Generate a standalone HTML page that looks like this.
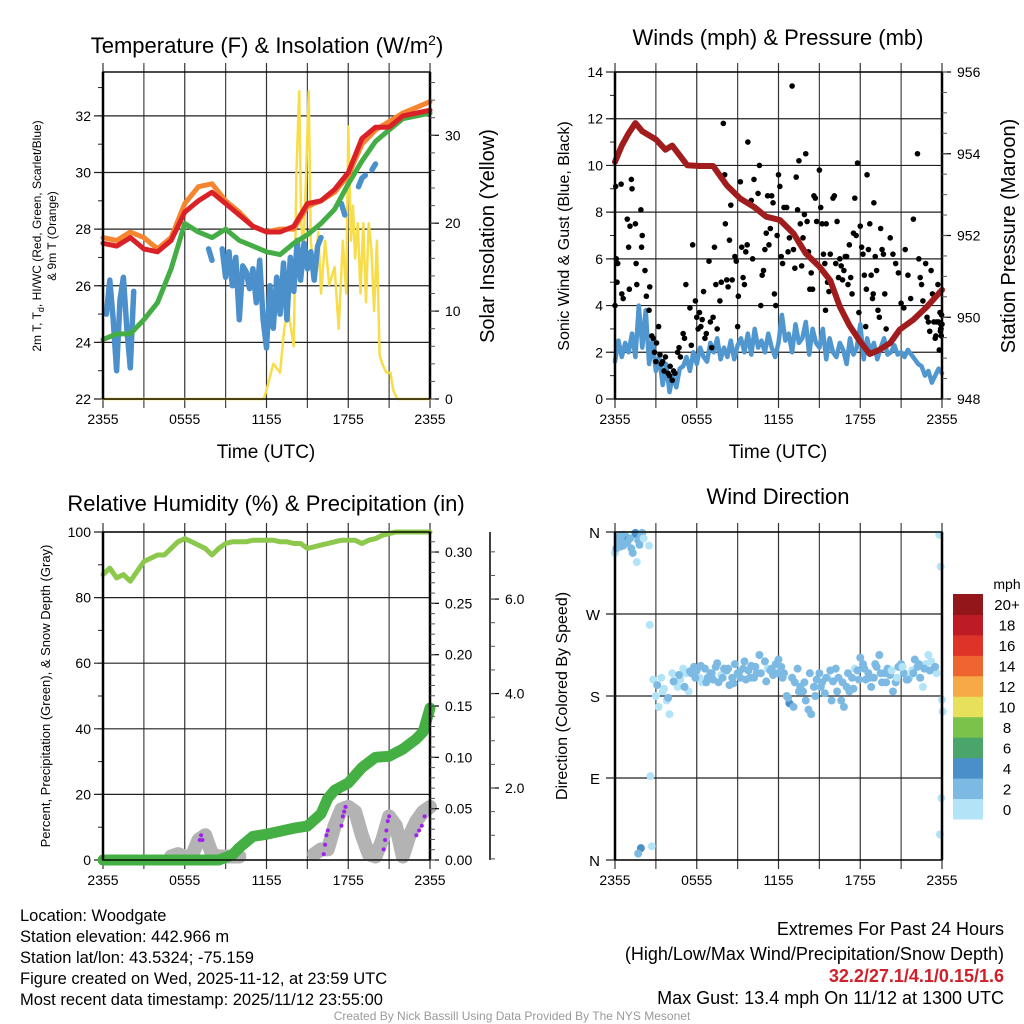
<!DOCTYPE html>
<html><head><meta charset="utf-8"><title>Mesonet Meteogram</title>
<style>
html,body{margin:0;padding:0;background:#fff;}
svg{display:block;font-family:"Liberation Sans",Arial,sans-serif;}
</style></head>
<body>
<svg id="chart" width="1024" height="1024" viewBox="0 0 1024 1024" xmlns="http://www.w3.org/2000/svg">
<rect x="0" y="0" width="1024" height="1024" fill="#fff"/>
<text x="267" y="53" font-size="22" text-anchor="middle">Temperature (F) &amp; Insolation (W/m<tspan dy="-8" font-size="14">2</tspan><tspan dy="8">)</tspan></text>
<text x="778" y="45" font-size="22" text-anchor="middle">Winds (mph) &amp; Pressure (mb)</text>
<text x="266" y="511" font-size="22" text-anchor="middle">Relative Humidity (%) &amp; Precipitation (in)</text>
<text x="778" y="504" font-size="22" text-anchor="middle">Wind Direction</text>
<text x="266" y="458" font-size="19" text-anchor="middle">Time (UTC)</text>
<text x="778" y="458" font-size="19" text-anchor="middle">Time (UTC)</text>
<text transform="translate(41,236) rotate(-90)" font-size="12" text-anchor="middle">2m T, T<tspan dy="3" font-size="9">d</tspan><tspan dy="-3">, HI/WC (Red, Green, Scarlet/Blue)</tspan></text>
<text transform="translate(56,236) rotate(-90)" font-size="12" text-anchor="middle">&amp; 9m T (Orange)</text>
<text transform="translate(494,236) rotate(-90)" font-size="20" text-anchor="middle">Solar Insolation (Yellow)</text>
<text transform="translate(569,236) rotate(-90)" font-size="16" text-anchor="middle">Sonic Wind &amp; Gust (Blue, Black)</text>
<text transform="translate(1015,236) rotate(-90)" font-size="20" text-anchor="middle">Station Pressure (Maroon)</text>
<text transform="translate(50,696) rotate(-90)" font-size="13" text-anchor="middle">Percent, Precipitation (Green), &amp; Snow Depth (Gray)</text>
<text transform="translate(567,696) rotate(-90)" font-size="16" text-anchor="middle">Direction (Colored By Speed)</text>
<g font-size="16.5">
<text x="20" y="921">Location: Woodgate</text>
<text x="20" y="942">Station elevation: 442.966 m</text>
<text x="20" y="963">Station lat/lon: 43.5324; -75.159</text>
<text x="20" y="984">Figure created on Wed, 2025-11-12, at 23:59 UTC</text>
<text x="20" y="1005">Most recent data timestamp: 2025/11/12 23:55:00</text>
</g>
<g font-size="18" text-anchor="end">
<text x="1004" y="935">Extremes For Past 24 Hours</text>
<text x="1004" y="960">(High/Low/Max Wind/Precipitation/Snow Depth)</text>
<text x="1004" y="982" fill="#d0202a" font-weight="bold">32.2/27.1/4.1/0.15/1.6</text>
<text x="1004" y="1004">Max Gust: 13.4 mph On 11/12 at 1300 UTC</text>
</g>
<text x="512" y="1020" font-size="12" fill="#999" text-anchor="middle">Created By Nick Bassill Using Data Provided By The NYS Mesonet</text>
</svg>
<script>
// ===== data (hours after 2355 UTC) =====
const timeTicks = ["2355","0555","1155","1755","2355"];
const tempRed = [27.5,27.4,27.7,27.3,27.2,27.6,28.6,29.0,29.3,28.9,28.5,28.1,27.9,27.9,28.1,28.9,29.0,29.4,30.0,31.2,31.6,31.6,32.0,32.1,32.2];
const temp9mOrange = [27.7,27.6,27.9,27.7,27.3,27.7,28.9,29.5,29.6,29.0,28.6,28.1,27.9,28.0,28.0,28.8,29.0,29.3,29.9,31.0,31.5,31.8,32.1,32.3,32.5];
const dewGreen = [24.1,24.3,24.3,24.8,25.4,26.6,28.2,27.9,27.7,28.0,27.6,27.4,27.2,27.1,27.5,27.8,28.2,28.7,29.6,30.4,31.1,31.5,31.9,32.0,32.1];
const windChillBlue = [null,25.0,26.2,24.8,23.0,25.5,26.3,24.5,23.1,25.8,null,null,null,null,null,null,null,null,null,null,null,null,null,null,null,null,27.9,null,null,null,null,27.3,26.9,null,null,27.3,26.3,27.2,26.0,27.0,24.8,26.7,26.5,25.9,26.6,25.4,26.9,24.8,23.8,26.0,24.5,26.3,25.0,26.8,24.8,27.0,25.8,27.6,26.2,27.5,26.6,27.2,26.2,27.4,27.7,null,28.1,null,28.1,null,28.9,28.5,null,28.7,null,29.5,29.8,29.9,null,30.1,30.3,null,30.5,null,null,null,null,null,null,null,null,null,null,null,null,null,null];
const insolHours = [0,11.8,12,12.5,13,13.3,13.6,14,14.2,14.4,14.55,14.7,14.9,15.1,15.25,15.5,15.8,16,16.3,16.6,17,17.3,17.6,17.85,18,18.2,18.35,18.5,18.7,18.9,19.1,19.3,19.5,19.7,19.9,20.1,20.3,20.5,20.8,21.1,21.3,21.6,24];
const insolValues = [0,0,1,4,3,8,10,6,26,35,20,17,25,35,18,14,19,12,18,13,15,8,18,12,31,18,22,16,20,12,20,11,20,17,10,18,5,4,3,3,1,0,0];
const windBlue = [1.6,2.5,1.8,2.4,2.0,2.8,1.8,4.0,2.2,3.8,1.5,2.5,1.2,1.8,0.6,1.5,0.3,1.0,0.5,1.3,1.4,1.8,1.2,2.0,1.5,2.2,1.8,1.6,2.4,2.0,2.6,1.7,2.2,1.8,2.5,1.7,2.3,2.6,2.0,2.8,1.9,3.0,2.2,2.5,2.0,2.8,2.2,1.8,2.4,3.6,2.5,2.8,2.0,3.2,2.4,2.6,3.3,1.9,3.0,2.4,2.2,3.0,1.7,2.6,2.0,1.8,2.4,2.1,1.5,2.6,1.9,2.2,3.2,1.7,2.6,2.0,2.4,1.7,2.2,2.6,1.9,2.0,2.3,1.9,2.0,1.8,2.1,1.9,1.7,1.5,1.4,1.0,1.2,0.7,1.0,1.3,1.1];
const gustHours = [0,0.05,0.1,0.15,0.2,0.45,0.5,0.6,0.9,1.0,1.05,1.1,1.2,1.25,1.5,1.55,1.6,1.9,1.95,2.0,2.2,2.3,2.5,2.55,2.7,2.8,2.9,3.0,3.05,3.2,3.3,3.4,3.5,3.6,3.7,3.9,4.0,4.05,4.2,4.3,4.4,4.6,4.7,4.8,5.0,5.1,5.2,5.5,5.6,5.7,5.9,6.0,6.1,6.2,6.3,6.4,6.5,6.6,6.7,6.9,7.0,7.1,7.2,7.3,7.4,7.5,7.7,7.8,7.95,8.05,8.1,8.2,8.3,8.4,8.5,8.6,8.8,8.9,9.0,9.05,9.2,9.3,9.4,9.5,9.6,9.7,9.75,10.0,10.1,10.2,10.5,10.6,10.7,10.8,10.9,11.0,11.1,11.2,11.3,11.4,11.5,11.6,11.7,11.8,11.9,12.0,12.1,12.2,12.3,12.4,13.0,12.6,12.7,12.8,13.1,13.2,13.3,13.4,13.5,13.6,13.7,13.8,13.9,14.0,14.1,14.2,14.3,14.4,14.5,14.6,14.7,14.8,15.0,15.1,15.2,15.3,15.4,15.45,15.5,15.6,15.7,15.8,16.0,16.1,16.2,16.3,16.4,16.5,16.6,16.7,16.8,16.9,17.0,17.1,17.2,17.3,17.4,17.5,17.6,17.7,17.8,17.9,18.0,18.1,18.2,18.3,18.4,18.45,18.5,18.6,18.7,18.8,18.9,18.95,19.0,19.1,19.2,19.3,19.4,19.5,19.6,19.7,19.8,19.9,20.2,20.4,20.6,20.8,21.0,21.2,21.3,21.5,21.7,21.9,22.2,22.3,22.4,22.5,22.6,22.8,22.9,23.0,23.1,23.2,23.3,23.4,23.5,23.55,23.6,23.7,23.75,23.8,23.85,23.9,23.92,23.95,23.97,24.0,23.88,23.93];
const gustValues = [4.0,9.1,6.0,5.0,5.8,9.2,4.5,4.3,7.7,6.5,4.7,7.4,9.4,9.0,7.5,5.8,4.9,8.1,6.5,7.0,5.5,4.4,3.8,4.8,2.7,2.6,2.0,1.6,2.4,3.1,1.9,1.5,1.6,1.2,1.8,1.1,1.0,1.4,0.8,1.2,1.1,2.0,2.2,1.8,2.8,2.6,4.9,3.9,2.3,6.6,4.2,3.5,3.0,3.7,3.1,3.4,4.6,2.6,2.8,5.9,3.3,2.2,3.5,6.5,4.9,3.0,4.2,5.0,11.8,9.6,7.5,5.1,4.8,6.8,8.3,5.1,6.1,5.9,3.1,4.4,9.3,6.5,5.2,4.9,6.3,6.6,11.0,8.5,6.0,9.4,8.8,10.0,4.0,5.3,5.5,6.4,7.1,8.7,6.6,7.3,8.7,8.4,4.5,4.0,7.0,9.6,9.1,6.1,5.8,8.2,13.4,8.2,6.3,6.9,6.4,5.6,9.5,8.1,10.2,7.5,5.7,6.9,7.9,10.5,7.6,6.3,4.7,5.4,4.7,8.7,8.6,7.6,9.8,8.2,7.5,6.2,5.8,3.8,7.5,5.0,4.6,6.2,8.6,8.7,5.8,7.6,5.2,6.0,5.7,5.1,5.5,6.1,6.1,4.9,6.6,5.2,4.5,7.1,8.6,7.0,10.1,3.7,7.4,6.5,6.2,5.3,3.1,4.7,9.6,6.4,7.5,5.3,4.3,4.5,8.4,6.1,5.5,3.8,3.5,7.3,6.4,6.2,4.5,3.0,6.9,6.2,5.8,5.4,4.1,3.9,6.4,5.3,4.3,7.7,10.5,6.0,5.2,4.9,4.2,5.8,3.5,3.3,2.9,5.5,4.5,3.3,2.6,2.7,3.3,4.9,3.3,2.1,3.7,3.0,3.2,2.7,3.6,3.2,2.9,3.0];
const pressHours = [0,0.5,1,1.5,2,3,3.7,4.2,5.3,6.2,7.2,8.2,9.2,10.2,11.1,12.1,13.1,14,15,15.8,16.5,17.2,18,18.7,19.4,20.2,20.9,21.9,22.9,24];
const pressValues = [953.8,954.2,954.5,954.75,954.55,954.35,954.1,954.2,953.72,953.7,953.7,953.23,952.9,952.7,952.46,952.38,952.05,951.56,951.24,950.9,950.26,949.8,949.4,949.1,949.2,949.37,949.7,949.94,950.26,950.67];
const rhValues = [87,89,86,87,85,88,91,92,93,93,95,97,98,97,96,95,93,95,96.5,97,97,97,97.5,97.5,97.5,97.5,97,97,96.5,96.5,95,95.5,96,96.5,97,97.5,97.5,97.5,96.5,97.5,98,99,99.5,100,100,100,100,100,100];
const precipHours = [0,1,2,3,4,5,6,7,8,8.5,9.5,10,11,12,13,14,15,16,16.5,17,18,19,20,21,22,23,23.5,24];
const precipValues = [0,0,0,0,0,0,0,0,0,0,0.005,0.012,0.023,0.025,0.028,0.031,0.033,0.045,0.06,0.068,0.075,0.09,0.1,0.101,0.108,0.118,0.125,0.148];
const snowDepth = [null,null,null,null,null,null,null,null,null,null,0.55,0.6,0.55,0.55,0.9,1.0,0.6,0.55,0.55,0.55,0.55,null,null,null,null,null,null,null,null,null,null,0.6,0.7,0.7,1.2,1.55,1.6,1.5,1.0,0.6,0.55,0.9,1.4,1.2,0.55,1.0,1.3,1.5,1.6];
const snowRawHours = [7.1,7.2,7.3,16.2,16.3,16.4,16.5,17.5,17.6,17.7,17.8,20.6,20.7,20.8,20.9,21.0,23.0,23.2,23.4,23.6];
const snowRawValues = [0.9,1.0,0.9,0.6,0.8,1.0,1.1,1.2,1.4,1.5,1.6,0.7,0.9,1.1,1.3,1.4,1.0,1.1,1.2,1.4];
const dirHours = [0,0.1,0.2,0.3,0.5,0.6,0.8,1.0,1.1,0.4,0.6,0.9,1.2,1.3,1.5,1.6,1.7,1.8,1.9,2.0,2.1,2.5,1.6,2.55,2.6,1.9,1.7,2.7,23.8,23.9,23.95,23.85,24,24.05,
 2.8,3.0,3.2,3.4,3.6,3.8,4.0,4.2,4.4,4.6,4.8,5.0,5.2,5.4,5.6,5.8,6.0,6.2,6.4,6.6,6.8,7.0,7.2,7.4,7.6,7.8,8.0,8.2,8.4,8.6,8.8,9.0,9.2,9.4,9.6,9.8,10.0,10.2,10.4,10.6,11.0,11.2,11.4,11.6,11.8,12.0,12.2,12.4,12.6,12.8,13.0,13.2,13.4,13.6,13.8,14.0,14.2,14.4,14.6,14.8,15.0,15.2,15.4,15.6,15.8,16.0,16.2,16.4,16.6,16.8,17.0,17.2,17.4,17.6,17.8,18.0,18.2,18.4,18.6,18.8,19.0,19.2,19.4,19.6,19.8,20.0,20.2,20.4,20.6,20.8,21.0,21.2,21.4,21.6,21.8,22.0,22.2,22.4,22.6,22.8,23.0,23.2,23.4,23.6,
 3.1,3.5,3.9,4.3,4.7,5.1,5.5,5.9,6.3,6.7,7.1,7.5,7.9,8.3,8.7,9.1,9.5,9.9,10.3,10.7,11.1,11.5,11.9,12.3,12.7,13.1,13.5,13.9,14.3,14.7,15.1,15.5,15.9,16.3,16.7,17.1,17.5,17.9,18.3,18.7,19.1,19.5,19.9,20.3,20.7,21.1,21.5,21.9,22.3,22.7,23.1,23.5];
const dirValues = [337,342,348,355,350,357,355,352,353,344,345,348,342,337,359,357,351,346,356,359,353,345,327,258,92,13,7,15,357,322,68,28,176,163,
 198,180,168,200,188,175,160,205,195,190,198,210,205,185,205,212,208,200,195,210,200,205,198,212,195,203,210,208,192,200,215,205,200,210,198,208,213,200,205,225,218,210,208,203,215,220,212,205,180,172,200,195,210,190,185,175,165,160,190,198,205,195,183,200,208,196,210,200,175,168,190,185,200,210,208,222,215,198,205,190,200,212,225,195,205,210,203,185,195,212,215,205,198,200,208,220,212,200,190,215,225,218,210,205,
 192,185,178,196,203,190,207,200,213,195,205,216,200,210,194,206,218,200,212,205,196,210,205,200,178,168,185,195,205,180,190,200,175,185,195,205,188,198,210,200,215,205,195,208,200,212,198,205,215,210,208,212];
const dirSpeeds = [0.8,2.5,2.5,2.5,2.5,2.5,2.5,4.5,2.5,2.5,2.5,2.5,2.5,2.5,4.5,4.5,2.5,2.5,2.5,2.5,1.0,1.0,1.0,1.0,1.0,4.5,2.5,1.0,1.0,1.0,1.0,1.0,1.0,1.0,
 1.0,1.0,1.0,1.0,1.0,1.0,1.0,1.0,1.0,1.0,1.0,1.0,1.0,1.0,2.5,2.5,2.5,1.0,1.0,2.5,2.5,2.5,2.5,2.5,2.5,1.0,2.5,2.5,2.5,2.5,2.5,2.5,2.5,2.5,2.5,2.5,2.5,2.5,2.5,2.5,2.5,1.0,2.5,2.5,2.5,2.5,2.5,2.5,2.5,4.5,2.5,2.5,2.5,2.5,2.5,2.5,2.5,2.5,2.5,2.5,2.5,2.5,2.5,1.0,2.5,2.5,2.5,2.5,2.5,2.5,2.5,2.5,2.5,1.0,2.5,2.5,2.5,2.5,2.5,2.5,2.5,2.5,2.5,2.5,2.5,2.5,2.5,2.5,2.5,2.5,2.5,2.5,2.5,1.0,1.0,2.5,2.5,2.5,
 1.0,1.0,1.0,1.0,1.0,1.0,2.5,1.0,2.5,2.5,2.5,2.5,2.5,2.5,2.5,2.5,2.5,2.5,2.5,2.5,2.5,2.5,2.5,2.5,2.5,2.5,2.5,2.5,2.5,2.5,2.5,2.5,2.5,2.5,2.5,2.5,2.5,2.5,2.5,2.5,2.5,2.5,2.5,2.5,2.5,2.5,2.5,2.5,2.5,1.0,1.0,1.0];
const dirLabels = ["N","E","S","W","N"];
const speedColors = ["#b3e3f7","#7cb9e3","#4a8fc7","#4aa56b","#7bc24b","#e6e05a","#f5a947","#ee6530","#dd3328","#bd1c24","#93161b"];
const speedLabels = ["0","2","4","6","8","10","12","14","16","18","20+"];

// ===== drawing =====
const NS = 'http://www.w3.org/2000/svg';
const svg = document.getElementById('chart');
function mk(tag, attrs, parent){
  const e = document.createElementNS(NS, tag);
  for (const k in attrs) e.setAttribute(k, attrs[k]);
  (parent || svg).appendChild(e);
  return e;
}
const P1 = {x0:103, x1:430, y0:72, y1:399};
const P2 = {x0:615, x1:942, y0:72, y1:399};
const P3 = {x0:103, x1:430, y0:532, y1:860};
const P4 = {x0:615, x1:942, y0:532, y1:860};
function xS(p, h){ return p.x0 + h/24*(p.x1-p.x0); }
function yS(p, v, lo, hi){ return p.y1 - (v-lo)/(hi-lo)*(p.y1-p.y0); }

function grid(p, name, hMajors, lo, hi, leftLabels, minorStep){
  const g = mk('g', {});
  
  
  for (let i=0;i<=8;i++){
    const x = xS(p, i*3);
    const l = mk('line', {x1:x, x2:x, y1:p.y0-9, y2:p.y1+9, stroke: (i%2? '#444':'#333'), 'stroke-width':1.2}, g);
    
    
  }
  hMajors.forEach(v=>{
    const y = yS(p, v, lo, hi);
    const l = mk('line', {x1:p.x0-9, x2:p.x1, y1:y, y2:y, stroke:'#222', 'stroke-width':1.2}, g);
    
    
    if (leftLabels){
      const t = mk('text', {x:p.x0-12, y:y+5, 'font-size':14, 'text-anchor':'end'}, g);
      t.textContent = leftLabels(v);
      
      
    }
  });
  if (minorStep){
    for (let v=lo; v<=hi+1e-9; v+=minorStep){
      const y = yS(p, v, lo, hi);
      const l = mk('line', {x1:p.x0-5, x2:p.x0, y1:y, y2:y, stroke:'#222', 'stroke-width':1}, g);
      
      
    }
  }
}
function frame(p, name){
  const r = mk('rect', {x:p.x0, y:p.y0, width:p.x1-p.x0, height:p.y1-p.y0, fill:'none', stroke:'#000', 'stroke-width':1.4});
  
  
  const a = mk('line', {x1:p.x0, x2:p.x0, y1:p.y0, y2:p.y1, stroke:'#000', 'stroke-width':2.5});
  
  
  const b = mk('line', {x1:p.x1, x2:p.x1, y1:p.y0, y2:p.y1, stroke:'#000', 'stroke-width':2.5});
  
  
}
function xLabels(p, name){
  timeTicks.forEach((s,i)=>{
    const t = mk('text', {x:xS(p, i*6), y:p.y1+25, 'font-size':14, 'text-anchor':'middle'});
    t.textContent = s;
    
    
  });
}
function rightAxis(p, name, lo, hi, majors, fmt, minorStep, xoff){
  const xa = p.x1 + (xoff||0);
  if (xoff){
    const l = mk('line', {x1:xa, x2:xa, y1:p.y0, y2:p.y1, stroke:'#000', 'stroke-width':1.5});
    
    
  }
  majors.forEach(v=>{
    const y = p.y1 - (v-lo)/(hi-lo)*(p.y1-p.y0);
    const l = mk('line', {x1:xa, x2:xa+9, y1:y, y2:y, stroke:'#000', 'stroke-width':1.2});
    
    
    const t = mk('text', {x:xa+15, y:y+5, 'font-size':14});
    t.textContent = fmt(v);
    
    
  });
  if (minorStep){
    for (let v=Math.ceil(lo/minorStep)*minorStep; v<=hi+1e-9; v+=minorStep){
      const y = p.y1 - (v-lo)/(hi-lo)*(p.y1-p.y0);
      if (y < p.y0-0.5 || y > p.y1+0.5) continue;
      const l = mk('line', {x1:xa, x2:xa+5, y1:y, y2:y, stroke:'#555', 'stroke-width':1});
      
      
    }
  }
}
function pathFrom(xs, ys){
  let d = '', pen = false;
  for (let i=0;i<xs.length;i++){
    if (ys[i]===null || ys[i]===undefined || isNaN(ys[i])){ pen=false; continue; }
    d += (pen ? 'L' : 'M') + xs[i].toFixed(1) + ',' + ys[i].toFixed(1);
    pen = true;
  }
  return d;
}
function line(p, hours, vals, lo, hi, color, w, name){
  const n = Math.min(hours.length, vals.length);
  const xs = hours.slice(0,n).map(h=>xS(p,h));
  const ys = vals.slice(0,n).map(v=> (v===null||v===undefined) ? null : yS(p, v, lo, hi));
  const e = mk('path', {d:pathFrom(xs, ys), fill:'none', stroke:color, 'stroke-width':w, 'stroke-linejoin':'round', 'stroke-linecap':'round'});
  
  
  return e;
}
function steps(n, step){ const a=[]; for(let i=0;i<n;i++) a.push(i*step); return a; }

// ---- Panel 1 ----
const T_LO=22, T_HI=33.55, I_LO=0, I_HI=37.2;
grid(P1, 'temp', [22,24,26,28,30,32], T_LO, T_HI, v=>String(v), 1);
line(P1, insolHours, insolValues, I_LO, I_HI, '#f7dd4a', 2.5, 'insolation-line');
line(P1, steps(97,0.25), windChillBlue, T_LO, T_HI, '#4b8fcb', 5.5, 'wind-chill-line');
line(P1, steps(25,1), dewGreen, T_LO, T_HI, '#45ad45', 5, 'dewpoint-line');
line(P1, steps(25,1), temp9mOrange, T_LO, T_HI, '#f5862f', 5, 'temp-9m-line');
line(P1, steps(25,1), tempRed, T_LO, T_HI, '#da2128', 5, 'temp-2m-line');
frame(P1, 'temp');
rightAxis(P1, 'insolation', I_LO, I_HI, [0,10,20,30], v=>String(v), 2);
xLabels(P1, 'temp');

// ---- Panel 2 ----
const W_LO=0, W_HI=14, PR_LO=948, PR_HI=956;
grid(P2, 'wind', [0,2,4,6,8,10,12,14], W_LO, W_HI, v=>String(v), 1);
line(P2, steps(97,0.25), windBlue, W_LO, W_HI, '#5097d0', 4.5, 'sonic-wind-line');
const nG = Math.min(gustHours.length, gustValues.length);
for (let i=0;i<nG;i++){
  const c = mk('circle', {cx:xS(P2,gustHours[i]), cy:yS(P2,gustValues[i],W_LO,W_HI), r:2.8, fill:'#000'});
  
  
}
line(P2, pressHours, pressValues, PR_LO, PR_HI, '#a11d1d', 6, 'pressure-line');
frame(P2, 'wind');
rightAxis(P2, 'pressure', PR_LO, PR_HI, [948,950,952,954,956], v=>String(v), 0.5);
xLabels(P2, 'wind');

// ---- Panel 3 ----
const RH_LO=0, RH_HI=100, PC_LO=0, PC_HI=0.3195, SN_LO=0.476, SN_HI=7.42;
grid(P3, 'humidity', [0,20,40,60,80,100], RH_LO, RH_HI, v=>String(v), 10);
line(P3, steps(49,0.5), snowDepth, SN_LO, SN_HI, '#b3b3b3', 14, 'snow-depth-line');
const nS = Math.min(snowRawHours.length, snowRawValues.length);
for (let i=0;i<nS;i++){
  const c = mk('circle', {cx:xS(P3,snowRawHours[i]), cy:yS(P3,snowRawValues[i],SN_LO,SN_HI), r:2, fill:'#a020f0'});
  
  
}
line(P3, precipHours, precipValues, PC_LO, PC_HI, '#44b044', 11, 'precip-line');
line(P3, steps(49,0.5), rhValues, RH_LO, RH_HI, '#8cc84b', 5, 'humidity-line');
frame(P3, 'humidity');
rightAxis(P3, 'precip', PC_LO, PC_HI, [0,0.05,0.1,0.15,0.2,0.25,0.3], v=>v.toFixed(2), 0.01);
rightAxis(P3, 'snow', SN_LO, SN_HI, [2,4,6], v=>v.toFixed(1), 0.5, 60);
xLabels(P3, 'humidity');

// ---- Panel 4 ----
const D_LO=0, D_HI=360;
grid(P4, 'direction', [0,90,180,270,360], D_LO, D_HI, null, 0);
[0,90,180,270,360].forEach((v,i)=>{
  const t = mk('text', {x:P4.x0-15, y:yS(P4,v,D_LO,D_HI)+6, 'font-size':15, 'text-anchor':'end'});
  t.textContent = dirLabels[i];
  
  
});
function speedColor(s){ if (s===undefined || s===null || isNaN(s)) s = 2.5; return speedColors[Math.min(10, Math.floor(s/2))]; }
const nD = Math.min(dirHours.length, dirValues.length);
for (let i=0;i<nD;i++){
  const c = mk('circle', {cx:xS(P4,dirHours[i]), cy:yS(P4,dirValues[i],D_LO,D_HI), r:4, fill:speedColor(dirSpeeds[i])});
  
  
}
frame(P4, 'direction');
xLabels(P4, 'direction');

const cbTop=594, cbBot=819, cbH=(cbBot-cbTop)/11;
speedColors.forEach((c,i)=>{
  const y = cbBot - (i+1)*cbH;
  const r = mk('rect', {x:953, y:y, width:30, height:cbH+0.5, fill:c});
  
  
  const t = mk('text', {x:1007, y:y+cbH/2+6, 'font-size':15, 'text-anchor':'middle'});
  t.textContent = speedLabels[i];
  
  
});
const mph = mk('text', {x:1007, y:589, 'font-size':14, 'text-anchor':'middle'});
mph.textContent = 'mph';


</script>
</body></html>
